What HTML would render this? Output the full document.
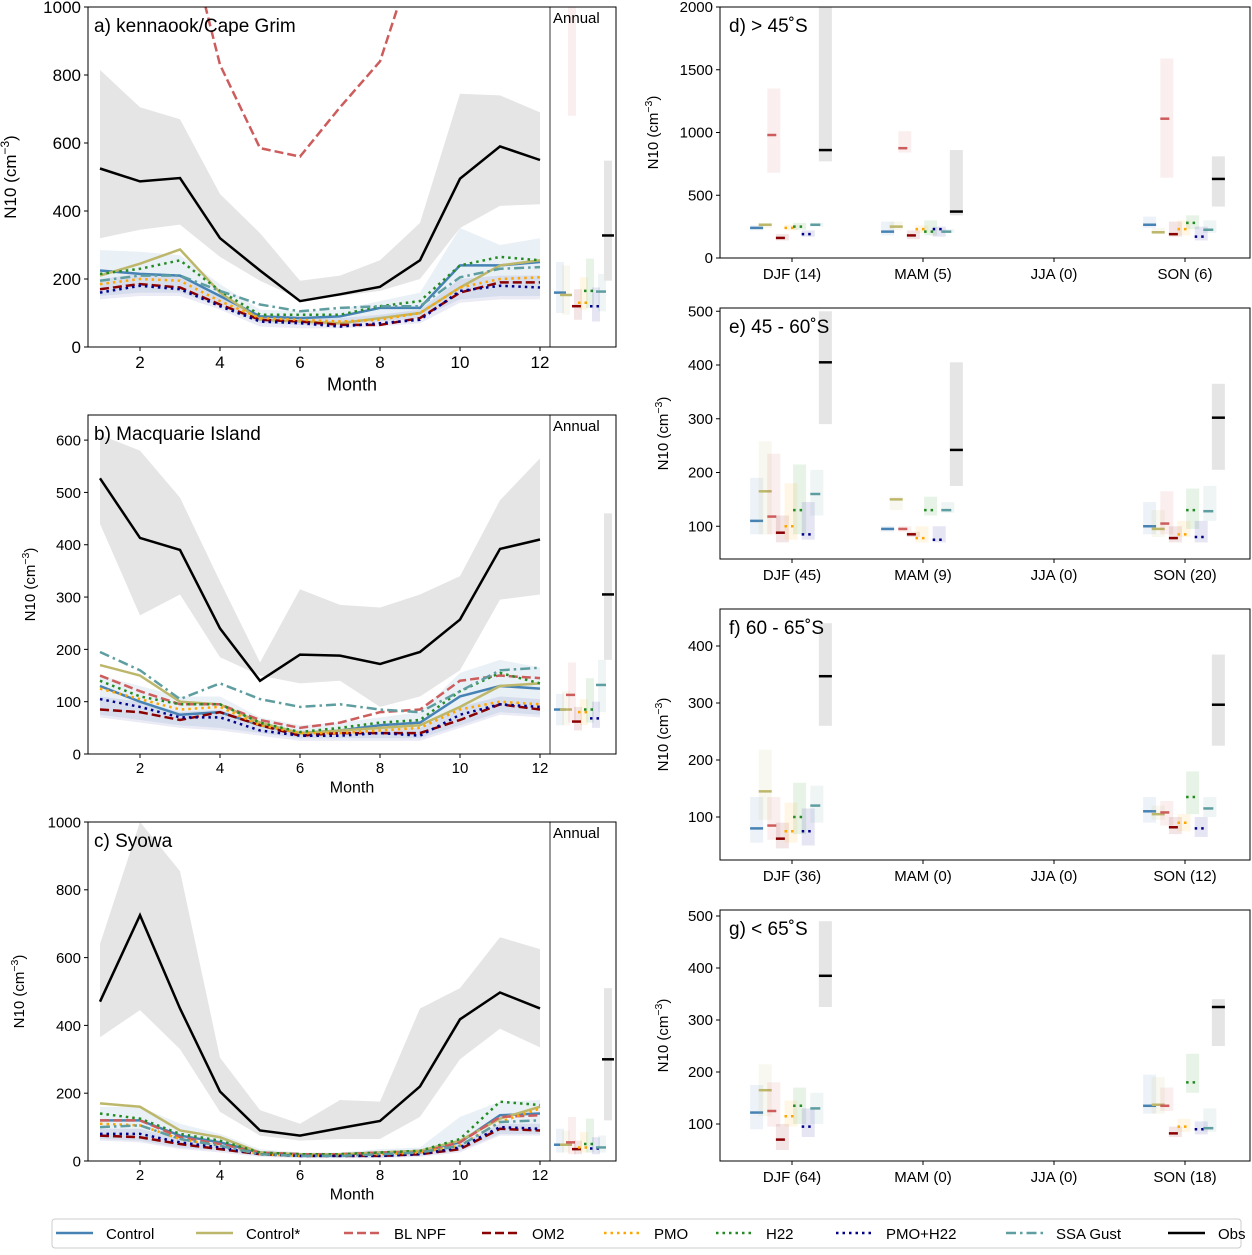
<!DOCTYPE html>
<html><head><meta charset="utf-8">
<style>
body{margin:0;background:#fff;}
svg{font-family:"Liberation Sans","DejaVu Sans",sans-serif;}
</style></head>
<body>
<svg id="chart" width="1252" height="1250" viewBox="0 0 1252 1250" xmlns="http://www.w3.org/2000/svg"></svg>
<script>
const months=[1,2,3,4,5,6,7,8,9,10,11,12];
const seriesNames=["Control","Control*","BL NPF","OM2","PMO","H22","PMO+H22","SSA Gust","Obs"];
// Panel a
const aObs=[525,487,497,320,225,135,155,177,255,495,590,550];
const aObsLo=[320,345,360,265,195,140,150,165,200,350,415,420];
const aObsHi=[815,705,670,450,335,195,210,255,365,745,740,690];
const aCtrlLo=[150,160,160,120,70,65,65,75,85,140,150,150];
const aCtrlHi=[285,280,270,185,110,105,110,135,160,350,300,320];
const aLowLo=[140,150,150,110,60,55,55,60,70,130,140,140];
const aLowHi=[200,215,210,150,95,90,85,95,110,200,210,210];
const aControl=[225,215,210,150,90,85,90,115,115,240,240,250];
const aControlS=[210,245,287,160,80,75,70,85,100,175,240,255];
const aBLNPF=[1500,1400,1300,830,585,560,705,840,1200,1500,1500,1500];
const aOM2=[170,185,175,125,80,75,65,65,85,160,190,190];
const aPMO=[185,200,195,135,85,80,75,80,100,175,200,205];
const aH22=[215,230,255,165,95,95,95,120,135,240,265,255];
const aPMOH22=[160,180,170,120,75,70,60,70,80,165,180,175];
const aSSA=[195,210,210,165,125,105,115,120,120,205,230,235];
const aAnnVal=[160,153,1100,120,130,165,120,163,328];
const aAnnLo=[100,95,680,80,110,115,75,105,195];
const aAnnHi=[250,240,1000,170,205,260,175,215,548];
// Panel b
const bObs=[527,413,390,240,140,190,188,172,195,257,392,410];
const bObsLo=[440,265,305,185,150,135,140,90,110,160,295,305];
const bObsHi=[610,580,490,330,175,315,285,280,305,340,485,565];
const bCtrlLo=[75,65,55,50,40,30,30,30,30,55,80,75];
const bCtrlHi=[150,130,110,110,70,55,60,70,80,155,180,165];
const bLowLo=[70,60,50,45,35,25,25,25,25,50,75,70];
const bLowHi=[110,100,80,85,60,45,45,50,50,90,110,105];
const bControl=[130,100,75,80,55,40,45,55,60,110,130,125];
const bControlS=[170,150,100,95,60,40,45,50,55,90,130,135];
const bBLNPF=[150,120,95,95,65,50,60,80,85,140,150,145];
const bOM2=[85,80,65,80,55,35,40,40,40,65,95,85];
const bPMO=[125,105,85,90,55,40,40,45,50,85,100,95];
const bH22=[140,110,95,95,60,42,50,60,65,120,155,135];
const bPMOH22=[105,90,70,70,45,35,35,40,35,75,95,90];
const bSSA=[195,160,105,135,105,90,95,85,80,120,160,165];
const bAnnVal=[85,85,113,62,80,85,68,132,305];
const bAnnLo=[55,55,60,45,55,60,50,80,180];
const bAnnHi=[115,120,175,90,105,145,100,180,460];
// Panel c
const cObs=[470,725,450,205,90,75,97,118,220,418,497,450];
const cObsLo=[365,445,330,145,75,60,65,65,130,300,390,335];
const cObsHi=[640,1000,855,305,150,110,180,175,450,510,660,625];
const cCtrlLo=[65,60,40,30,15,10,10,10,15,30,80,80];
const cCtrlHi=[160,160,110,80,35,25,25,35,40,130,175,180];
const cLowLo=[60,55,35,25,12,8,8,8,12,25,75,75];
const cLowHi=[95,95,65,50,25,20,20,20,25,50,110,110];
const cControl=[120,120,75,55,25,20,20,25,30,55,135,140];
const cControlS=[170,160,90,70,25,20,20,25,30,60,125,160];
const cBLNPF=[120,120,70,50,25,20,20,25,25,55,130,135];
const cOM2=[75,70,50,35,20,15,15,15,20,35,95,90];
const cPMO=[110,105,65,45,20,15,18,20,25,45,115,155];
const cH22=[140,125,80,60,25,20,20,25,30,65,175,165];
const cPMOH22=[80,80,55,40,20,15,15,15,20,40,100,95];
const cSSA=[100,105,65,45,20,15,15,20,25,45,115,120];
const cAnnVal=[48,48,55,35,40,50,37,40,300];
const cAnnLo=[25,25,20,20,25,25,20,25,120];
const cAnnHi=[95,90,130,60,85,125,70,75,510];
// Right panels: seasons
const seasons=["DJF","MAM","JJA","SON"];
const dCounts=[14,5,0,6], eCounts=[45,9,0,20], fCounts=[36,0,0,12], gCounts=[64,0,0,18];
const dVal=[[240,265,980,160,240,250,190,265,860],[210,250,875,180,230,210,230,210,370],null,[265,205,1110,190,230,280,170,225,630]];
const dLo=[[220,240,680,140,220,225,170,250,770],[180,220,840,150,200,180,170,200,340],null,[240,190,640,170,180,230,140,200,410]];
const dHi=[[260,280,1350,190,265,280,220,280,2000],[290,290,1010,220,260,300,250,230,860],null,[330,240,1590,290,300,340,250,300,810]];
const eVal=[[110,165,118,88,100,130,85,160,405],[95,150,95,85,78,130,75,130,242],null,[100,95,105,78,85,130,80,128,302]];
const eLo=[[85,85,85,70,75,85,75,120,290],[90,130,90,80,70,120,70,125,175],null,[85,80,85,70,80,95,70,110,205]];
const eHi=[[190,258,235,120,180,215,145,205,500],[100,155,100,90,100,155,100,145,405],null,[145,130,165,100,110,170,110,175,365]];
const fVal=[[80,145,85,62,75,100,75,120,347],null,null,[110,105,108,82,90,135,80,115,297]];
const fLo=[[55,95,60,45,55,70,50,90,260],null,null,[90,95,85,70,75,105,65,100,225]];
const fHi=[[135,218,135,90,125,160,115,155,440],null,null,[135,120,128,100,105,180,100,135,385]];
const gVal=[[122,165,125,70,115,135,95,130,385],null,null,[135,137,135,82,95,180,90,92,325]];
const gLo=[[90,115,95,50,95,100,75,100,325],null,null,[120,120,125,75,85,160,80,85,250]];
const gHi=[[175,215,180,100,145,170,130,160,490],null,null,[195,190,170,95,110,235,105,130,340]];

const colors=["#4682b4","#bdb76b","#cd5c5c","#8b0000","#ffa500","#228b22","#00008b","#5f9ea0","#000000"];
const dashes=["","","9,4","9,4","2.5,4","2.5,4","2.5,4","10,4,2.5,4",""];
const NS="http://www.w3.org/2000/svg";
const svg=document.getElementById('chart');
function mk(tag,attrs,parent){const e=document.createElementNS(NS,tag);for(const k in attrs)e.setAttribute(k,attrs[k]);(parent||svg).appendChild(e);return e;}
function txt(s,attrs,parent){const e=mk('text',attrs,parent);e.textContent=s;return e;}
let clipId=0;
function ylabel(x,y,size,parent){
  const t=mk('text',{x:x,y:y,'font-size':size,'text-anchor':'middle',transform:`rotate(-90 ${x} ${y})`},parent);
  
  
  t.appendChild(document.createTextNode('N10 (cm'));
  const s=document.createElementNS(NS,'tspan');s.setAttribute('baseline-shift','super');s.setAttribute('font-size',size*0.7);s.textContent='−3';t.appendChild(s);
  t.appendChild(document.createTextNode(')'));
}
function monthlyPanel(p){
  const g=mk('g',{});
  
  
  const X0=88,X1=550,XA=616,Y0=p.top,Y1=p.bot;
  const xs=m=>100+(m-1)*40;
  const ys=v=>Y1-(v/p.ymax)*(Y1-Y0);
  const id='cl'+(clipId++);
  const cp=mk('clipPath',{id:id},g);mk('rect',{x:X0,y:Y0,width:X1-X0,height:Y1-Y0},cp);
  const id2='cl'+(clipId++);
  const cp2=mk('clipPath',{id:id2},g);mk('rect',{x:X1,y:Y0,width:XA-X1,height:Y1-Y0},cp2);
  const pg=mk('g',{'clip-path':`url(#${id})`},g);
  const band=(lo,hi,fill)=>{let pts=months.map((m,i)=>xs(m)+','+ys(hi[i]));pts=pts.concat(months.slice().reverse().map((m,j)=>xs(m)+','+ys(lo[11-j])));const b=mk('polygon',{points:pts.join(' '),fill:fill},pg);};
  band(p.obsLo,p.obsHi,'#e5e5e5');
  band(p.ctrlLo,p.ctrlHi,'rgba(70,130,180,0.12)');
  band(p.lowLo,p.lowHi,'rgba(0,0,139,0.08)');
  for(let si=0;si<9;si++){
    const d=p.series[si];
    const pl=mk('polyline',{points:months.map((m,i)=>xs(m)+','+ys(d[i])).join(' '),fill:'none',stroke:colors[si],'stroke-width':2.5,'stroke-dasharray':dashes[si]},pg);
    
    
  }
  const ag=mk('g',{'clip-path':`url(#${id2})`},g);
  for(let i=0;i<9;i++){
    const cx=560+6*i;
    const r=mk('rect',{x:cx-4,y:ys(p.annHi[i]),width:8,height:Math.max(0,ys(p.annLo[i])-ys(p.annHi[i])),fill:i==8?'#e5e5e5':colors[i],'fill-opacity':i==8?1:0.1},ag);
    
    const l=mk('line',{x1:cx-6,x2:cx+6,y1:ys(p.annVal[i]),y2:ys(p.annVal[i]),stroke:colors[i],'stroke-width':2.5,'stroke-dasharray':dashes[i]},ag);
    
  }
  mk('rect',{x:X0,y:Y0,width:XA-X0,height:Y1-Y0,fill:'none',stroke:'#000','stroke-width':1},g);
  mk('line',{x1:X1,x2:X1,y1:Y0,y2:Y1,stroke:'#000','stroke-width':0.8},g);
  for(let v=0;v<=p.ymax;v+=p.ystep){
    const y=ys(v);mk('line',{x1:X0-4,x2:X0,y1:y,y2:y,stroke:'#000'},g);
    const t=txt(String(v),{x:X0-7,y:y+p.fs*0.36,'font-size':p.fs,'text-anchor':'end'},g);
    
  }
  [2,4,6,8,10,12].forEach(m=>{const x=xs(m);mk('line',{x1:x,x2:x,y1:Y1,y2:Y1+4,stroke:'#000'},g);
    const t=txt(String(m),{x:x,y:Y1+4+p.fs,'font-size':p.fs,'text-anchor':'middle'},g);
    });
  const mt=txt('Month',{x:352,y:Y1+p.fs*2.55,'font-size':p.fs+1,'text-anchor':'middle'},g);
  
  ylabel(p.ylx,(Y0+Y1)/2,p.fs,g);
  const tt=txt(p.title,{x:94,y:Y0+25,'font-size':19},g);
  
  const an=txt('Annual',{x:553,y:Y0+16,'font-size':15},g);
  
}
monthlyPanel({name:'panel-a-cape-grim',top:7,bot:347,ymax:1000,ystep:200,fs:17,ylx:16,title:'a) kennaook/Cape Grim',
  obsLo:aObsLo,obsHi:aObsHi,ctrlLo:aCtrlLo,ctrlHi:aCtrlHi,lowLo:aLowLo,lowHi:aLowHi,
  series:[aControl,aControlS,aBLNPF,aOM2,aPMO,aH22,aPMOH22,aSSA,aObs],annVal:aAnnVal,annLo:aAnnLo,annHi:aAnnHi});
monthlyPanel({name:'panel-b-macquarie',top:415,bot:754,ymax:648,ystep:100,fs:15,ylx:35,title:'b) Macquarie Island',
  obsLo:bObsLo,obsHi:bObsHi,ctrlLo:bCtrlLo,ctrlHi:bCtrlHi,lowLo:bLowLo,lowHi:bLowHi,
  series:[bControl,bControlS,bBLNPF,bOM2,bPMO,bH22,bPMOH22,bSSA,bObs],annVal:bAnnVal,annLo:bAnnLo,annHi:bAnnHi});
monthlyPanel({name:'panel-c-syowa',top:822,bot:1161,ymax:1000,ystep:200,fs:15,ylx:24,title:'c) Syowa',
  obsLo:cObsLo,obsHi:cObsHi,ctrlLo:cCtrlLo,ctrlHi:cCtrlHi,lowLo:cLowLo,lowHi:cLowHi,
  series:[cControl,cControlS,cBLNPF,cOM2,cPMO,cH22,cPMOH22,cSSA,cObs],annVal:cAnnVal,annLo:cAnnLo,annHi:cAnnHi});

function seasonPanel(p){
  const g=mk('g',{});
  
  
  const X0=720,X1=1250,Y0=p.top,Y1=p.bot;
  const xs=k=>792+k*131;
  const ys=v=>p.y0px-v*p.ppu;
  const id='cl'+(clipId++);
  const cp=mk('clipPath',{id:id},g);mk('rect',{x:X0,y:Y0,width:X1-X0,height:Y1-Y0},cp);
  const pg=mk('g',{'clip-path':`url(#${id})`},g);
  seasons.forEach((s,k)=>{
    if(!p.val[k])return;
    for(let i=0;i<9;i++){
      const cx=xs(k)+(i-4)*8.6-1;
      const r=mk('rect',{x:cx-6.5,y:ys(p.hi[k][i]),width:13,height:ys(p.lo[k][i])-ys(p.hi[k][i]),fill:i==8?'#e5e5e5':colors[i],'fill-opacity':i==8?1:0.1},pg);
      
      const l=mk('line',{x1:cx-6.5,x2:cx+6.5,y1:ys(p.val[k][i]),y2:ys(p.val[k][i]),stroke:colors[i],'stroke-width':2.5,'stroke-dasharray':dashes[i]},pg);
      
    }
  });
  mk('rect',{x:X0,y:Y0,width:X1-X0,height:Y1-Y0,fill:'none',stroke:'#000','stroke-width':1},g);
  p.ticks.forEach(v=>{const y=ys(v);mk('line',{x1:X0-4,x2:X0,y1:y,y2:y,stroke:'#000'},g);
    const t=txt(String(v),{x:X0-7,y:y+5,'font-size':15,'text-anchor':'end'},g);
    });
  seasons.forEach((s,k)=>{const x=xs(k);mk('line',{x1:x,x2:x,y1:Y1,y2:Y1+4,stroke:'#000'},g);
    const t=txt(s+' ('+p.counts[k]+')',{x:x,y:Y1+21,'font-size':15,'text-anchor':'middle'},g);
    });
  ylabel(p.ylx,(Y0+Y1)/2,15,g);
  const tt=txt(p.title,{x:729,y:Y0+25,'font-size':19},g);
  
}
seasonPanel({name:'panel-d-north-45s',top:7,bot:258,y0px:258,ppu:251/2000,ticks:[0,500,1000,1500,2000],ylx:658,title:'d) > 45˚S',counts:dCounts,val:dVal,lo:dLo,hi:dHi});
seasonPanel({name:'panel-e-45-60s',top:308,bot:559,y0px:580,ppu:0.5375,ticks:[100,200,300,400,500],ylx:668,title:'e) 45 - 60˚S',counts:eCounts,val:eVal,lo:eLo,hi:eHi});
seasonPanel({name:'panel-f-60-65s',top:609,bot:860,y0px:874,ppu:0.57,ticks:[100,200,300,400],ylx:668,title:'f) 60 - 65˚S',counts:fCounts,val:fVal,lo:fLo,hi:fHi});
seasonPanel({name:'panel-g-south-65s',top:910,bot:1161,y0px:1176,ppu:0.52,ticks:[100,200,300,400,500],ylx:668,title:'g) < 65˚S',counts:gCounts,val:gVal,lo:gLo,hi:gHi});

const lg=mk('g',{});


mk('rect',{x:52,y:1219,width:1189,height:29,rx:3,fill:'#fff',stroke:'#ccc'},lg);
const legX=[56,196,344,482,604,716,836,1006,1168];
seriesNames.forEach((n,i)=>{
  const e=mk('g',{},lg);
  
  
  mk('line',{x1:legX[i],x2:legX[i]+37,y1:1233,y2:1233,stroke:colors[i],'stroke-width':2.5,'stroke-dasharray':dashes[i]},e);
  txt(n,{x:legX[i]+50,y:1239,'font-size':15},e);
});
</script>
</body></html>
